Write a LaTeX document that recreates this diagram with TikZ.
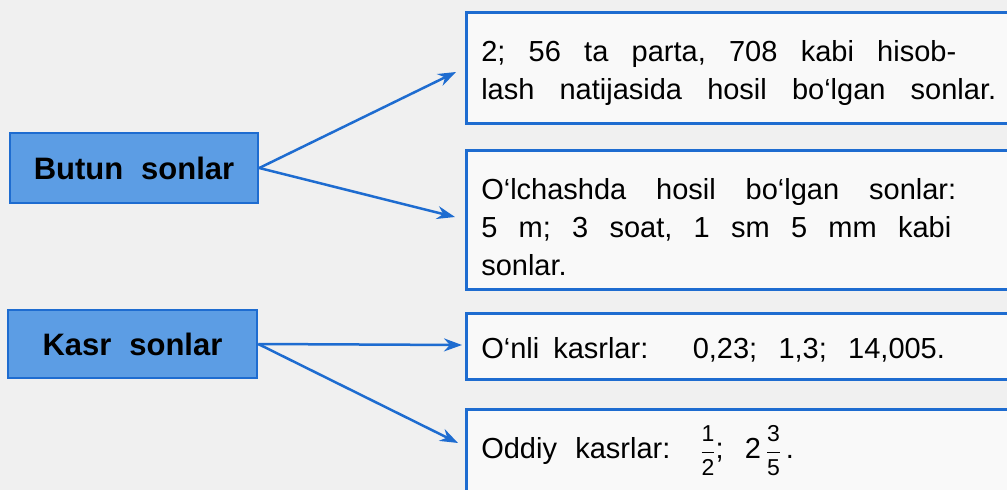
\documentclass[tikz,border=0pt]{standalone}
\usepackage{fontspec}
\usepackage{amsmath}
\setmainfont{Liberation Sans}
\usetikzlibrary{arrows.meta}
\definecolor{sonblue}{RGB}{30,108,208}
\definecolor{sonfill}{RGB}{92,157,228}
\definecolor{paper}{RGB}{240,240,240}
\definecolor{boxfill}{RGB}{249,249,249}
% justified line of given width
\newcommand{\qator}[2]{\makebox[#1][s]{\frenchspacing\spaceskip=0.28em plus 1fil\relax #2}}
\newcommand{\ulush}[2]{$\dfrac{\text{\fontsize{23}{23}\selectfont #1}}{\text{\fontsize{23}{23}\selectfont #2}}$}

\begin{document}
\begin{tikzpicture}[x=1pt,y=-1pt,
  turbox/.style={draw=sonblue,line width=2.5pt,fill=sonfill,minimum width=248pt,minimum height=70pt,inner sep=0pt,font=\fontsize{31}{36}\selectfont\bfseries},
  misolbox/.style={draw=sonblue,line width=2.5pt,fill=boxfill,anchor=north west,text width=600pt,align=left,inner xsep=15pt,inner ysep=10pt,text height=39pt,font=\fontsize{29}{38}\selectfont\frenchspacing},
  strelka/.style={draw=sonblue,line width=2.5pt,-{Stealth[length=18pt,width=13pt]}}]
\fill[paper] (0,0) rectangle (1007,490);
\clip (0,0) rectangle (1007,490);
%Left boxes
\node[turbox] (butun) at (134,168) {Butun\hspace{0.3em} sonlar};
\node[turbox,minimum width=249pt,minimum height=68pt] (kasr) at (132.5,344) {Kasr\hspace{0.3em} sonlar};
%Right boxes
\node[misolbox,text depth=52pt] (hisob) at (465,11)
  {\qator{475pt}{2; 56 ta parta, 708 kabi hisob-}\\
   \qator{515pt}{lash natijasida hosil bo‘lgan sonlar.}};
\node[misolbox,text depth=80pt] (olchov) at (465,149)
  {\qator{475pt}{O‘lchashda hosil bo‘lgan sonlar:}\\
   \qator{470pt}{5 m; 3 soat, 1 sm 5 mm kabi}\\
   sonlar.};
\node[misolbox,text height=35pt,text depth=11pt] (onli) at (465,312)
  {O‘nli\hspace{0.15em} kasrlar:\hspace{1.2em} 0,23;\hspace{0.4em} 1,3;\hspace{0.4em} 14,005.};
\node[misolbox,text depth=70pt] (oddiy) at (465,408)
  {Oddiy\hspace{0.3em} kasrlar:\hspace{0.7em} \ulush{1}{2};\hspace{0.4em} 2\,\ulush{3}{5}\,.};
%Arrow ends
\coordinate (t1) at (456,72);
\coordinate (t2) at (455,217);
\coordinate (t3) at (462,345);
\coordinate (t4) at (458,443);
%Arrows
\draw[strelka] (butun.east) -- (t1);
\draw[strelka] (butun.east) -- (t2);
\draw[strelka] (kasr.east) -- (t3);
\draw[strelka] (kasr.east) -- (t4);
\end{tikzpicture}
\end{document}
